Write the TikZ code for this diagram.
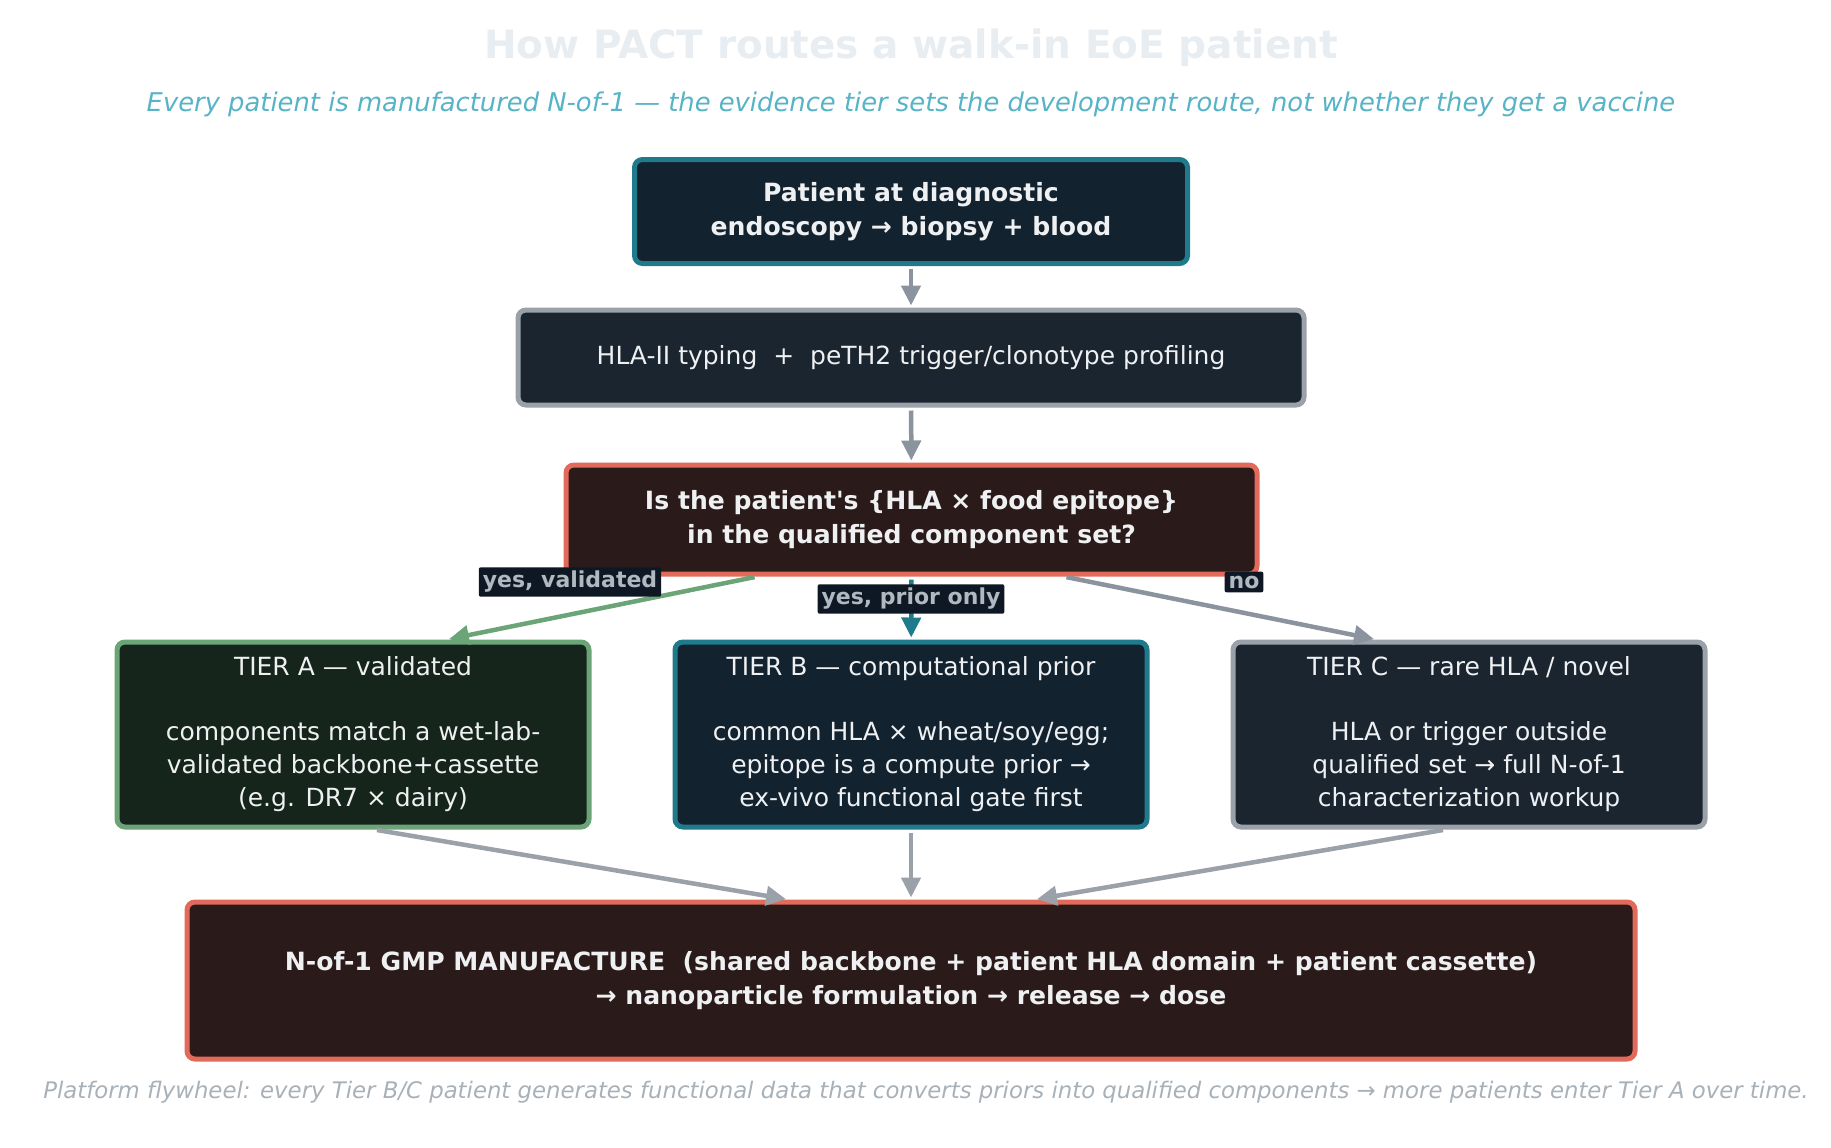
\documentclass[tikz,border=0pt]{standalone}
\usepackage{fontspec}
\defaultfontfeatures[\rmfamily]{}
\setmainfont{DejaVu Sans}
\usetikzlibrary{arrows.meta, positioning}
\definecolor{fondoazul}{HTML}{13222F}
\definecolor{bordeazul}{HTML}{1F7A8C}
\definecolor{fondogris}{HTML}{1B2530}
\definecolor{bordegris}{HTML}{9AA1A9}
\definecolor{fondorojo}{HTML}{2B1A1A}
\definecolor{borderojo}{HTML}{E26A5B}
\definecolor{fondoverde}{HTML}{16251C}
\definecolor{bordeverde}{HTML}{6BA577}
\definecolor{flechagris}{HTML}{8A939E}
\definecolor{textoclaro}{HTML}{EEF0F2}
\definecolor{tituloclaro}{HTML}{E8EDF2}
\definecolor{subtitulo}{HTML}{57B3C6}
\definecolor{notagris}{HTML}{A8B0B8}
\definecolor{etiquetafondo}{HTML}{0D1824}
\definecolor{etiquetatexto}{HTML}{B0B8C0}

\begin{document}
\begin{tikzpicture}[x=1pt, y=-1pt,
            caja/.style={rectangle, rounded corners=8pt, line width=5pt, align=center, text=textoclaro, font=\fontsize{25}{33}\selectfont},
            negrita/.style={caja, font=\fontsize{25.1}{34}\selectfont\bfseries},
            azul/.style={fill=fondoazul, draw=bordeazul},
            gris/.style={fill=fondogris, draw=bordegris},
            rojo/.style={fill=fondorojo, draw=borderojo},
            verde/.style={fill=fondoverde, draw=bordeverde},
            nivel/.style={caja, minimum width=472pt, minimum height=185pt},
            etiqueta/.style={fill=etiquetafondo, text=etiquetatexto, rounded corners=2pt, inner xsep=4pt, inner ysep=4pt, font=\fontsize{22}{26}\selectfont\bfseries},
            flecha/.style={-{Triangle[length=20pt, width=19pt]}, line width=4.5pt, shorten <=3pt, shorten >=2pt}
        ]
            \useasboundingbox (0,0) rectangle (1831,1148);

            % Titulo y subtitulo
            \node[text=tituloclaro, font=\fontsize{39}{44}\selectfont\bfseries] (titulo) at (911,48) {How PACT routes a walk-in EoE patient};
            \node[text=subtitulo, font=\fontsize{25.8}{30}\selectfont\itshape] (subtitulo) at (911,104) {Every patient is manufactured N-of-1 — the evidence tier sets the development route, not whether they get a vaccine};

            % Paciente
            \node[negrita, azul, minimum width=553pt, minimum height=104pt] (paciente) at (911,211.5) {Patient at diagnostic\\endoscopy → biopsy + blood};

            % Tipado HLA
            \node[caja, gris, minimum width=786pt, minimum height=95pt] (tipado) at (911,357.5) {HLA-II typing \ + \ peTH2 trigger/clonotype profiling};

            % Decision
            \node[negrita, rojo, minimum width=691pt, minimum height=109pt] (decision) at (911.5,519.5) {Is the patient's \{HLA × food epitope\}\\in the qualified component set?};

            % Niveles A, B, C
            \node[nivel, verde] (tier_a) at (353,734.5) {TIER A — validated\\[32pt]components match a wet-lab-\\validated backbone+cassette\\(e.g. DR7 × dairy)};
            \node[nivel, azul] (tier_b) at (911,734.5) {TIER B — computational prior\\[32pt]common HLA × wheat/soy/egg;\\epitope is a compute prior →\\ex-vivo functional gate first};
            \node[nivel, gris] (tier_c) at (1469,734.5) {TIER C — rare HLA / novel\\[32pt]HLA or trigger outside\\qualified set → full N-of-1\\characterization workup};

            % Manufactura
            \node[negrita, rojo, minimum width=1448pt, minimum height=157pt] (gmp) at (911,980.5) {N-of-1 GMP MANUFACTURE \ (shared backbone + patient HLA domain + patient cassette)\\→ nanoparticle formulation → release → dose};

            % Nota al pie
            \node[text=notagris, font=\fontsize{22.8}{26}\selectfont\itshape] (nota) at (926,1092) {Platform flywheel: every Tier B/C patient generates functional data that converts priors into qualified components → more patients enter Tier A over time.};

            % Flechas principales
            \draw[flecha, flechagris] (paciente) -- (tipado);
            \draw[flecha, flechagris] (tipado) -- (decision);

            % Ramas de la decision
            \draw[flecha, bordeverde] ([xshift=-154pt]decision.south) -- ([xshift=94pt]tier_a.north);
            \draw[flecha, bordeazul] (decision) -- (tier_b);
            \draw[flecha, flechagris] ([xshift=152pt]decision.south) -- ([xshift=-93pt]tier_c.north);
            \node[etiqueta] (lbl_a) at (570,582) {yes, validated};
            \node[etiqueta] (lbl_b) at (911,599) {yes, prior only};
            \node[etiqueta] (lbl_c) at (1244,582) {no};

            % Hacia la manufactura
            \draw[flecha, bordegris] ([xshift=21pt]tier_a.south) -- ([xshift=-123pt]gmp.north);
            \draw[flecha, bordegris] (tier_b) -- (gmp);
            \draw[flecha, bordegris] ([xshift=-23pt]tier_c.south) -- ([xshift=124pt]gmp.north);

        \end{tikzpicture}
\end{document}
